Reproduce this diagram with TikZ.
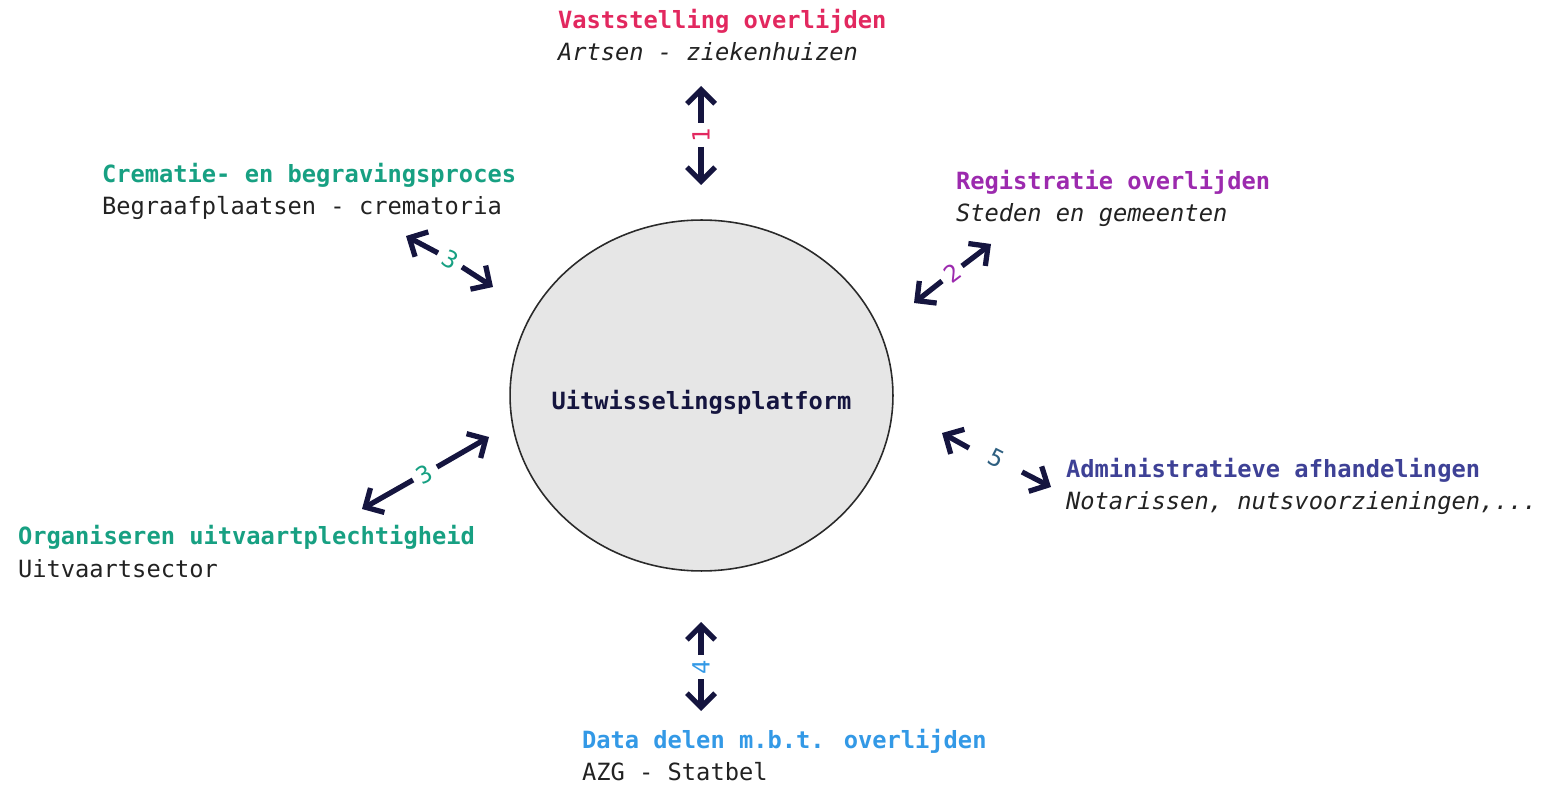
\documentclass[tikz,border=0pt]{standalone}
\usepackage{fontspec}
\newfontfamily\plex{DejaVu Sans Mono}
\usetikzlibrary{arrows.meta,shapes.geometric}
\definecolor{navy}{HTML}{15153F}
\definecolor{cpink}{HTML}{E2285F}
\definecolor{cgreen}{HTML}{17A082}
\definecolor{cpurple}{HTML}{9C2AAE}
\definecolor{cindigo}{HTML}{3E4196}
\definecolor{cblue}{HTML}{3399E6}
\definecolor{cteal}{HTML}{2E5F80}
\definecolor{subtext}{HTML}{222222}
\definecolor{hubfill}{HTML}{E6E6E6}
\definecolor{hubline}{HTML}{2A2A2A}
\newcommand\basefont{\plex\fontsize{13.5pt}{16pt}\selectfont}
\begin{document}
\begin{tikzpicture}[x=0.02cm,y=-0.02cm,
  every node/.style={inner sep=0pt, outer sep=0pt},
  title/.style={anchor=base west, font=\basefont\bfseries},
  sub/.style={anchor=base west, text=subtext, font=\basefont},
  subit/.style={anchor=base west, text=subtext, font=\basefont\itshape},
  conn/.style={draw=navy, line width=3pt, -{Straight Barb[length=8pt,width=16pt]}},
  num/.style={font=\basefont}]
\useasboundingbox (0,0) rectangle (1541,786);

% hub
\node[ellipse, draw=hubline, fill=hubfill, line width=0.9pt,
      minimum width=7.66cm, minimum height=7.02cm] (hub) at (701.5,395.5) {};
\node[anchor=base, font=\basefont\bfseries, text=navy] (hublabel) at (701.5,410) {Uitwisselingsplatform};

% texts
\node[title, text=cpink] (t1) at (558,29) {Vaststelling overlijden};
\node[subit] (s1) at (558,61) {Artsen - ziekenhuizen};

\node[title, text=cgreen] (t3a) at (102,183) {Crematie- en begravingsproces};
\node[sub] (s3a) at (102,215) {Begraafplaatsen - crematoria};

\node[title, text=cpurple] (t2) at (956,190) {Registratie overlijden};
\node[subit] (s2) at (956,222) {Steden en gemeenten};

\node[title, text=cgreen] (t3b) at (18,545) {Organiseren uitvaartplechtigheid};
\node[sub] (s3b) at (18,578) {Uitvaartsector};

\node[title, text=cindigo] (t5) at (1066,478) {Administratieve afhandelingen};
\node[subit] (s5) at (1066,510) {Notarissen, nutsvoorzieningen,...};

\node[title, text=cblue] (t4) at (582,748) {Data delen m.b.t. overlijden};
\node[sub] (s4) at (582,780) {AZG - Statbel};

% arrow 1
\coordinate (a1s) at (701,123); \coordinate (a1t) at (701,86);
\coordinate (b1s) at (701,147); \coordinate (b1t) at (701,185);
\draw[conn] (a1s) -- (a1t);
\draw[conn] (b1s) -- (b1t);
\node[num, text=cpink, rotate=90] (n1) at (701,135) {1};

% arrow 4
\coordinate (a4s) at (701,655); \coordinate (a4t) at (701,622);
\coordinate (b4s) at (701,679); \coordinate (b4t) at (701,711);
\draw[conn] (a4s) -- (a4t);
\draw[conn] (b4s) -- (b4t);
\node[num, text=cblue, rotate=90] (n4) at (701,667) {4};

% arrow 3 upper
\coordinate (a3s) at (438,253); \coordinate (a3t) at (406,236);
\coordinate (b3s) at (462,267); \coordinate (b3t) at (493,287);
\draw[conn] (a3s) -- (a3t);
\draw[conn] (b3s) -- (b3t);
\node[num, text=cgreen, rotate=-30] (n3a) at (450,260) {3};

% arrow 2
\coordinate (a2s) at (962,266); \coordinate (a2t) at (991,244);
\coordinate (b2s) at (942,281); \coordinate (b2t) at (914,303);
\draw[conn] (a2s) -- (a2t);
\draw[conn] (b2s) -- (b2t);
\node[num, text=cpurple, rotate=37] (n2) at (952,273) {2};

% arrow 3 lower
\coordinate (a6s) at (437,467); \coordinate (a6t) at (489,437);
\coordinate (b6s) at (413,480); \coordinate (b6t) at (362,509);
\draw[conn] (a6s) -- (a6t);
\draw[conn] (b6s) -- (b6t);
\node[num, text=cgreen, rotate=30] (n3b) at (424,474) {3};

% arrow 5
\coordinate (a5s) at (969,448); \coordinate (a5t) at (942,433);
\coordinate (b5s) at (1022,472); \coordinate (b5t) at (1051,487);
\draw[conn] (a5s) -- (a5t);
\draw[conn] (b5s) -- (b5t);
\node[num, text=cteal, rotate=-27] (n5) at (996,458) {5};
\end{tikzpicture}
\end{document}
